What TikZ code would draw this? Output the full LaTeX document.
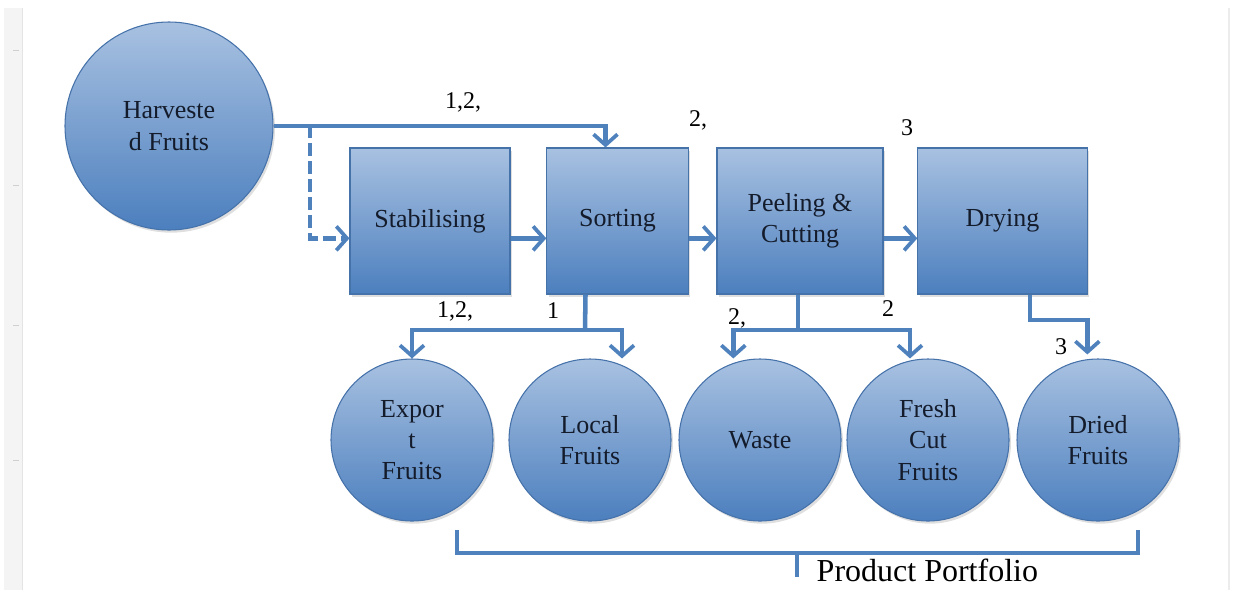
\documentclass[tikz,border=0pt]{standalone}
\usepackage{fontspec}
\setmainfont{Liberation Serif}
\usepackage{tikz}
\usetikzlibrary{arrows.meta,positioning,calc,shadows}
\definecolor{flowblue}{RGB}{79,129,189}
\definecolor{boxtop}{RGB}{168,193,225}
\definecolor{boxbottom}{RGB}{76,127,190}
\definecolor{boxedge}{RGB}{70,114,170}
\definecolor{textnavy}{RGB}{20,28,44}
\definecolor{rulergray}{RGB}{228,228,228}

\begin{document}
\begin{tikzpicture}[
      x=0.75pt,y=-0.75pt,
      node distance=0.28cm,
      stage/.style={
        draw=boxedge,
        line width=0.8pt,
        top color=boxtop,
        bottom color=boxbottom,
        drop shadow={opacity=0.25,shadow xshift=1.5pt,shadow yshift=-2pt},
        align=center,
        minimum height=109.5pt,
        text=textnavy,
        font=\fontsize{19.5}{23}\selectfont
      },
      product/.style={
        circle,
        draw=boxedge,
        line width=0.8pt,
        top color=boxtop,
        bottom color=boxbottom,
        drop shadow={opacity=0.25,shadow xshift=1.5pt,shadow yshift=-2pt},
        align=center,
        inner sep=0pt,
        minimum size=121.5pt,
        text=textnavy,
        font=\fontsize{19.5}{23.5}\selectfont
      },
      link/.style={line width=3.4pt,draw=flowblue,line cap=butt},
      flow/.style={link,-{Straight Barb[length=8pt,width=18pt,line width=2.8pt]}},
      tag/.style={font=\fontsize{18}{20}\selectfont,text=black}
    ]
      \useasboundingbox (0,0) rectangle (1234,590);
      % faint ruler strip on the left and page edge on the right
      \fill[rulergray!40] (4,8) rectangle (22,590);
      \draw[rulergray,line width=0.6pt] (22,8) -- (22,590);
      \foreach \t in {50,185,325,460} \draw[rulergray!80!gray] (13,\t) -- (19,\t);
      \draw[rulergray!70,line width=1pt] (1229,8) -- (1229,590);

      % source and processing stages
      \node[product,minimum size=156pt] (harvest) at (169,126) {Harveste\\d Fruits};
      \node[stage,minimum width=120pt] (stab) at (430,221) {Stabilising};
      \node[stage,minimum width=106pt] (sort) at (617.5,221) {Sorting};
      \node[stage,minimum width=124.5pt] (peel) at (800,221) {Peeling \&\\Cutting};
      \node[stage,minimum width=127pt] (dry) at (1002.5,221) {Drying};

      % products
      \node[product] (export) at (412,440) {Expor\\t\\Fruits};
      \node[product] (local) at (590,440) {Local\\Fruits};
      \node[product] (waste) at (760,440) {Waste};
      \node[product] (freshcut) at (928,440) {Fresh\\Cut\\Fruits};
      \node[product] (dried) at (1098,440) {Dried\\Fruits};

      % main line into sorting, dashed branch into stabilising
      \coordinate (split) at (310,125);
      \draw[flow] (harvest.east) -| ([xshift=-9pt]sort.north);
      \draw[flow,dashed,dash pattern=on 10pt off 3.5pt] (split) |- ([yshift=-13pt]stab.west);
      \draw[flow] ([yshift=-13pt]stab.east) -- ([yshift=-13pt]sort.west);
      \draw[flow] ([yshift=-13pt]sort.east) -- ([yshift=-13pt]peel.west);
      \draw[flow] ([yshift=-13pt]peel.east) -- ([yshift=-13pt]dry.west);

      % sorting outputs
      \coordinate (sortfork) at (585,330);
      \draw[link] ([xshift=-24pt]sort.south) -- (sortfork);
      \draw[flow] (sortfork) -| (export.north);
      \draw[flow] (sortfork) -| ([xshift=24pt]local.north);

      % peeling outputs
      \coordinate (peelfork) at (798,330);
      \draw[link] ([xshift=-1.5pt]peel.south) -- (peelfork);
      \draw[flow] (peelfork) -| ([xshift=-20pt]waste.north);
      \draw[flow] (peelfork) -| ([xshift=-13.5pt]freshcut.north);

      % drying output
      \draw[flow] ([xshift=20.6pt]dry.south) |- ([xshift=-8pt,yshift=29pt]dried.north) -- ([xshift=-8pt,yshift=3pt]dried.north);

      % route labels
      \node[tag] at (463,102) {1,2,};
      \node[tag] at (698,120) {2,};
      \node[tag] at (907,128) {3};
      \node[tag] at (455,311) {1,2,};
      \node[tag] at (553,311) {1};
      \node[tag] at (737,318) {2,};
      \node[tag] at (888,309) {2};
      \node[tag] at (1061,347) {3};

      % bracket over the product range
      \coordinate (brleft) at (457,530);
      \coordinate (brright) at (1138,530);
      \coordinate (brmid) at (797,553);
      \draw[link,line width=3pt] (brleft) |- (brright |- brmid) -- (brright);
      \draw[link,line width=3pt] (brmid) -- ++(0,24);
      \node[font=\fontsize{24}{26}\selectfont,anchor=west] (portfolio) at (812,570) {Product Portfolio};
    \end{tikzpicture}
\end{document}
